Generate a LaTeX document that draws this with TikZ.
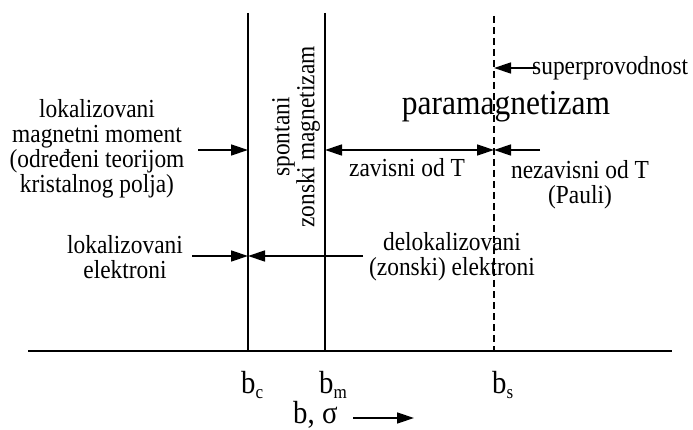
\documentclass[tikz,border=0pt]{standalone}
\usepackage{fontspec}
\setmainfont[FakeStretch=0.9]{Liberation Serif}
\usetikzlibrary{arrows.meta}
\begin{document}
\begin{tikzpicture}[x=1pt,y=-1pt,
  txt/.style={inner sep=0pt, align=center, font=\fontsize{26}{25}\selectfont},
  big/.style={inner sep=0pt, font=\fontsize{35}{35}\selectfont},
  blab/.style={inner sep=0pt, anchor=base west, font=\fontsize{32}{32}\selectfont},
  vline/.style={line width=1.4pt},
  arr/.style={line width=1.4pt, -{Triangle[length=17pt,width=11pt]}},
  darr/.style={line width=1.4pt, {Triangle[length=17pt,width=11pt]}-{Triangle[length=17pt,width=11pt]}}]
\useasboundingbox (0,0) rectangle (693,430);
% coordinates
\coordinate (ax1) at (28,351);
\coordinate (ax2) at (672,351);
\coordinate (bcT) at (248,13);
\coordinate (bcB) at (248,351);
\coordinate (bmT) at (325,13);
\coordinate (bmB) at (325,351);
\coordinate (bsT) at (494,16);
\coordinate (bsB) at (494,351);
\coordinate (a1s) at (198,150);
\coordinate (a1e) at (248,150);
\coordinate (a2s) at (325,150);
\coordinate (a2e) at (494,150);
\coordinate (a3s) at (540,150);
\coordinate (a3e) at (494,150);
\coordinate (a4s) at (192,256);
\coordinate (a4e) at (248,256);
\coordinate (a5s) at (363,256);
\coordinate (a5e) at (248,256);
\coordinate (a6s) at (536,68);
\coordinate (a6e) at (494,68);
\coordinate (a7s) at (353,418);
\coordinate (a7e) at (414,418);
% lines
\draw[line width=2.4pt] (ax1) -- (ax2);
\draw[vline] (bcT) -- (bcB);
\draw[vline] (bmT) -- (bmB);
\draw[vline, dash pattern=on 7pt off 4pt] (bsT) -- (bsB);
% texts
\node[txt] (lmm) at (97,149) {lokalizovani\\magnetni moment\\(određeni teorijom\\kristalnog polja)};
\node[txt, rotate=90] (szm) at (296,137) {spontani\\zonski magnetizam};
\node[big, anchor=base] (para) at (506,115) {paramagnetizam};
\node[txt, anchor=base west] (sup) at (532,75) {superprovodnost};
\node[txt, anchor=base] (zav) at (407,177) {zavisni od T};
\node[txt] (nez) at (580,185) {nezavisni od T\\(Pauli)};
\node[txt] (lel) at (125,257) {lokalizovani\\elektroni};
\node[txt] (del) at (452,257) {delokalizovani\\(zonski) elektroni};
\node[blab] (bc) at (241,393) {b\raisebox{-5pt}{\fontsize{19}{19}\selectfont c}};
\node[blab] (bm) at (319,393) {b\raisebox{-5pt}{\fontsize{19}{19}\selectfont m}};
\node[blab] (bs) at (492,393) {b\raisebox{-5pt}{\fontsize{19}{19}\selectfont s}};
\node[blab] (bsig) at (293,423) {b, σ};
% arrows
\draw[arr] (a1s) -- (a1e);
\draw[darr] (a2s) -- (a2e);
\draw[arr] (a3s) -- (a3e);
\draw[arr] (a4s) -- (a4e);
\draw[arr] (a5s) -- (a5e);
\draw[arr] (a6s) -- (a6e);
\draw[arr] (a7s) -- (a7e);
\end{tikzpicture}
\end{document}
